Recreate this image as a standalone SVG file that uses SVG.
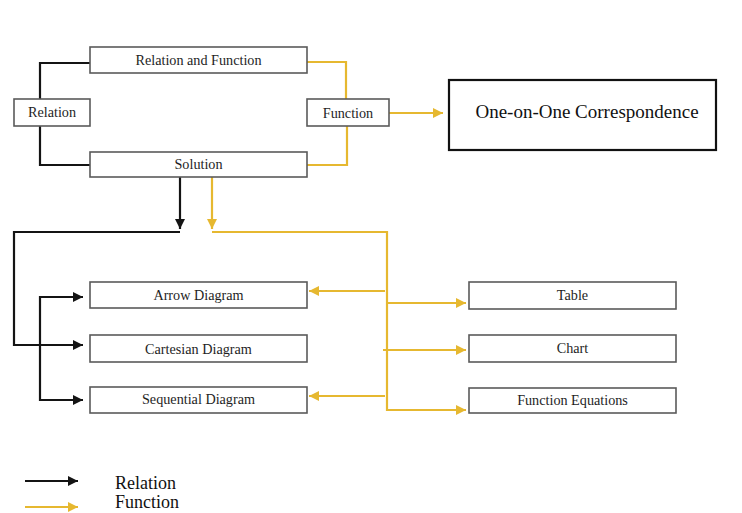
<svg xmlns="http://www.w3.org/2000/svg" width="742" height="513" viewBox="0 0 742 513">
<defs>
<style>
.box{fill:#fff;stroke:#5a5a5a;stroke-width:1.6}
.big{fill:#fff;stroke:#111;stroke-width:2.2}
.t{font-family:"Liberation Serif","Times New Roman",serif;font-size:14.2px;fill:#1e1e1e;text-anchor:middle}
.tb{font-family:"Liberation Serif","Times New Roman",serif;font-size:19px;fill:#111;text-anchor:middle}
.tl{font-family:"Liberation Serif","Times New Roman",serif;font-size:18px;fill:#111}
.k{fill:none;stroke:#141414;stroke-width:2.2}
.y{fill:none;stroke:#E6B830;stroke-width:2.2}
</style>
<marker id="ak" viewBox="0 0 10 10" refX="10" refY="5" markerWidth="12" markerHeight="10" markerUnits="userSpaceOnUse" orient="auto"><path d="M0,0 L10,5 L0,10 Z" fill="#141414"/></marker>
<marker id="ay" viewBox="0 0 10 10" refX="10" refY="5" markerWidth="12" markerHeight="10" markerUnits="userSpaceOnUse" orient="auto"><path d="M0,0 L10,5 L0,10 Z" fill="#E6B830"/></marker>
</defs>
<rect width="742" height="513" fill="#fff"/>
<g id="connectors">
<path class="k" d="M90,63 H40 V99"/>
<path class="k" d="M40,126 V165 H90"/>
<path class="y" d="M307,62 H346 V99"/>
<path class="y" d="M347,126 V165 H307"/>
<path class="y" d="M389,113 H443" marker-end="url(#ay)"/>
<path class="k" d="M180,177 V229" marker-end="url(#ak)"/>
<path class="k" d="M180,232 H14 V345 H83" marker-end="url(#ak)"/>
<path class="k" d="M83,297 H40 V400 H83" marker-end="url(#ak)"/>
<path class="k" d="M40,297 H83" marker-end="url(#ak)"/>
<path class="y" d="M212,177 V229" marker-end="url(#ay)"/>
<path class="y" d="M212,232 H387 V410 H466" marker-end="url(#ay)"/>
<path class="y" d="M387,303 H466" marker-end="url(#ay)"/>
<path class="y" d="M383,350 H466" marker-end="url(#ay)"/>
<path class="y" d="M385,291 H309" marker-end="url(#ay)"/>
<path class="y" d="M385,396 H309" marker-end="url(#ay)"/>
</g>
<g id="relation-and-function"><rect class="box" x="90" y="47" width="217" height="26"/><text class="t" x="198.5" y="65">Relation and Function</text></g>
<g id="relation"><rect class="box" x="14" y="99" width="76" height="27"/><text class="t" x="52" y="117">Relation</text></g>
<g id="function"><rect class="box" x="307" y="99" width="82" height="27"/><text class="t" x="348" y="118">Function</text></g>
<g id="solution"><rect class="box" x="90" y="152" width="217" height="25"/><text class="t" x="198.5" y="169">Solution</text></g>
<g id="one-on-one"><rect class="big" x="449" y="80" width="267" height="70"/><text class="tb" x="587" y="118">One-on-One Correspondence</text></g>
<g id="arrow-diagram"><rect class="box" x="90" y="282" width="217" height="26"/><text class="t" x="198.5" y="300">Arrow Diagram</text></g>
<g id="cartesian-diagram"><rect class="box" x="90" y="335" width="217" height="27"/><text class="t" x="198.5" y="354">Cartesian Diagram</text></g>
<g id="sequential-diagram"><rect class="box" x="90" y="387" width="217" height="26"/><text class="t" x="198.5" y="404">Sequential Diagram</text></g>
<g id="table"><rect class="box" x="469" y="282" width="207" height="27"/><text class="t" x="572.5" y="300">Table</text></g>
<g id="chart"><rect class="box" x="469" y="335" width="207" height="27"/><text class="t" x="572.5" y="353">Chart</text></g>
<g id="function-equations"><rect class="box" x="469" y="388" width="207" height="25"/><text class="t" x="572.5" y="405">Function Equations</text></g>
<g id="legend">
<path class="k" d="M25,481 H78" marker-end="url(#ak)"/>
<path class="y" d="M25,507 H78" marker-end="url(#ay)"/>
<text class="tl" x="115" y="489">Relation</text>
<text class="tl" x="115" y="508">Function</text>
</g>
</svg>
